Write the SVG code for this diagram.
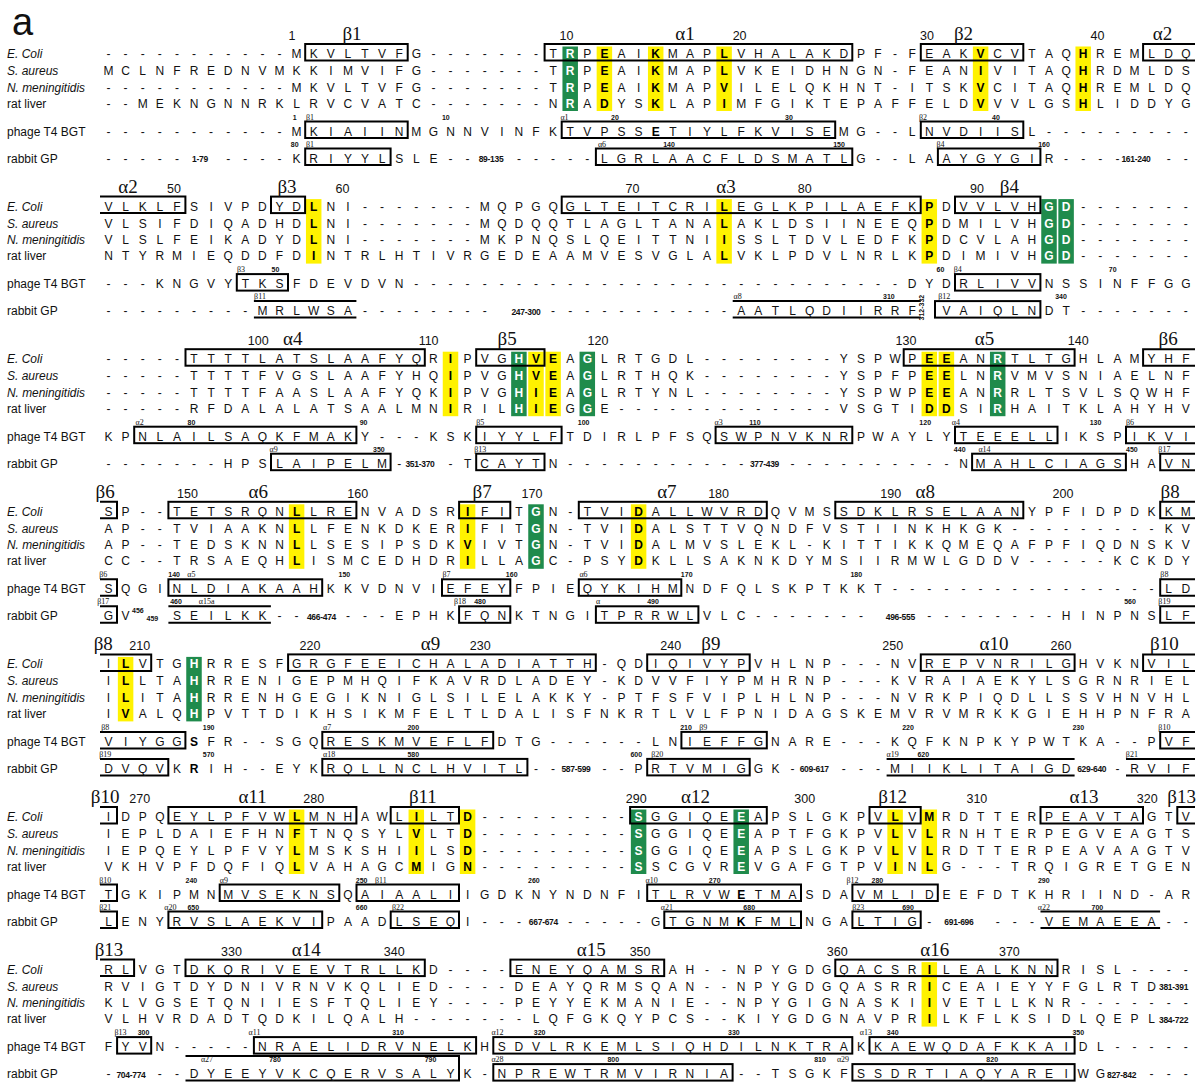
<svg xmlns="http://www.w3.org/2000/svg" xmlns:xlink="http://www.w3.org/1999/xlink" width="1198" height="1082" viewBox="0 0 1198 1082">
<style>
.s{font-family:"Liberation Sans",Arial,sans-serif;font-size:12px;text-anchor:middle;fill:#111}
.b{font-weight:bold;fill:#000}
.w{font-weight:bold;fill:#fff}
.lab{font-family:"Liberation Sans",Arial,sans-serif;font-size:12px;fill:#111}
.it{font-style:italic}
.hn{font-family:"Liberation Sans",Arial,sans-serif;font-size:12.5px;text-anchor:middle;fill:#111}
.hg{font-family:"Liberation Serif","Times New Roman",serif;font-size:19px;text-anchor:middle;fill:#111}
.sn{font-family:"Liberation Sans",Arial,sans-serif;font-size:7px;font-weight:bold;text-anchor:middle;fill:#111}
.sg{font-family:"Liberation Serif","Times New Roman",serif;font-size:8px;text-anchor:middle;fill:#111}
.rl{font-family:"Liberation Sans",Arial,sans-serif;font-size:8.5px;font-weight:bold;text-anchor:middle;letter-spacing:-0.3px;fill:#111}
.rs{font-family:"Liberation Sans",Arial,sans-serif;font-size:8.5px;font-weight:bold;letter-spacing:-0.3px;fill:#111}
.bx{fill:none;stroke:#000;stroke-width:2}
.hy{fill:#fff200}
.hgn{fill:#1f8b4c}
</style>
<defs>
<g id="labels">
<text class="lab it" x="7" y="0">E. Coli</text>
<text class="lab it" x="7" y="17">S. aureus</text>
<text class="lab it" x="7" y="33.5" textLength="78" lengthAdjust="spacingAndGlyphs">N. meningitidis</text>
<text class="lab" x="7" y="49.5">rat liver</text>
<text class="lab" x="7" y="77.5">phage T4 BGT</text>
<text class="lab" x="7" y="104.5">rabbit GP</text>
</g>
</defs>
<rect width="1198" height="1082" fill="#fff"/>
<text x="12" y="34.5" font-family="Liberation Sans, Arial, sans-serif" font-size="38" fill="#111">a</text>

<g id="block1" transform="translate(0,58)">
<use xlink:href="#labels" href="#labels"/>
<g id="b1-highlights">
<rect class="hgn" x="562.45" y="-11.5" width="15.5" height="64.5"/>
<rect class="hy" x="596.65" y="-11.5" width="15.5" height="64.5"/>
<rect class="hy" x="647.95" y="-11.5" width="15.5" height="64.5"/>
<rect class="hy" x="716.35" y="-11.5" width="15.5" height="64.5"/>
<rect class="hy" x="972.85" y="-11.5" width="15.5" height="64.5"/>
<rect class="hy" x="1075.45" y="-11.5" width="15.5" height="64.5"/>
</g>
<g id="b1-boxes">
<rect class="bx" x="305.2" y="-14" width="102.5" height="16.5"/>
<rect class="bx" x="544.6" y="-14" width="307.7" height="16.5"/>
<rect class="bx" x="920.8" y="-14" width="102.5" height="16.5"/>
<path class="bx" d="M1195 -14H1143.1V2.5H1195"/>
<rect class="bx" x="305.2" y="63.5" width="102.5" height="16.5"/>
<rect class="bx" x="561.7" y="63.5" width="273.5" height="16.5"/>
<rect class="bx" x="920.8" y="63.5" width="102.5" height="16.5"/>
<rect class="bx" x="305.2" y="90.5" width="85.4" height="16.5"/>
<rect class="bx" x="595.9" y="90.5" width="256.4" height="16.5"/>
<rect class="bx" x="937.9" y="90.5" width="102.5" height="16.5"/>
</g>
<text class="hn" y="-18"><tspan x="292">1</tspan><tspan x="566.4">10</tspan><tspan x="739.6">20</tspan><tspan x="927">30</tspan><tspan x="1097.4">40</tspan></text>
<text class="hg" y="-18"><tspan x="352">β1</tspan><tspan x="685">α1</tspan><tspan x="963.5">β2</tspan><tspan x="1162.5">α2</tspan></text>
<text class="sn" y="61.5"><tspan x="294.7">1</tspan><tspan x="445.8">10</tspan><tspan x="615">20</tspan><tspan x="789">30</tspan><tspan x="996">40</tspan></text>
<text class="sg" y="61.5"><tspan x="310">β1</tspan><tspan x="564.5">α1</tspan><tspan x="923">β2</tspan></text>
<text class="sn" y="88.5"><tspan x="294.7">80</tspan><tspan x="669">140</tspan><tspan x="839">150</tspan><tspan x="1044">160</tspan></text>
<text class="sg" y="88.5"><tspan x="310">β1</tspan><tspan x="602">α6</tspan><tspan x="940.5">β4</tspan></text>
<text class="rl" y="104"><tspan x="200">1-79</tspan><tspan x="491">89-135</tspan><tspan x="1136">161-240</tspan></text>
<text class="s" y="0" x="108.5 125.6 142.7 159.8 176.9 194 211.1 228.2 245.3 262.4 279.5 296.6 313.7 330.8 347.9 365 382.1 399.2 416.3 433.4 450.5 467.6 484.7 501.8 518.9 536 553.1 570.2 587.3 604.4 621.5 638.6 655.7 672.8 689.9 707 724.1 741.2 758.3 775.4 792.5 809.6 826.7 843.8 860.9 878 895.1 912.2 929.3 946.4 963.5 980.6 997.7 1014.8 1031.9 1049 1066.1 1083.2 1100.3 1117.4 1134.5 1151.6 1168.7 1185.8">-----------MKVLTVFG-------T<tspan class="w">R</tspan>P<tspan class="b">E</tspan>AI<tspan class="b">K</tspan>MAP<tspan class="b">L</tspan>VHALAKDPF-FEAK<tspan class="b">V</tspan>CVTAQ<tspan class="b">H</tspan>REMLDQ</text>
<text class="s" y="17" x="108.5 125.6 142.7 159.8 176.9 194 211.1 228.2 245.3 262.4 279.5 296.6 313.7 330.8 347.9 365 382.1 399.2 416.3 433.4 450.5 467.6 484.7 501.8 518.9 536 553.1 570.2 587.3 604.4 621.5 638.6 655.7 672.8 689.9 707 724.1 741.2 758.3 775.4 792.5 809.6 826.7 843.8 860.9 878 895.1 912.2 929.3 946.4 963.5 980.6 997.7 1014.8 1031.9 1049 1066.1 1083.2 1100.3 1117.4 1134.5 1151.6 1168.7 1185.8">MCLNFREDNVMKKIMVIFG-------T<tspan class="w">R</tspan>P<tspan class="b">E</tspan>AI<tspan class="b">K</tspan>MAP<tspan class="b">L</tspan>VKEIDHNGN-FEAN<tspan class="b">I</tspan>VITAQ<tspan class="b">H</tspan>RDMLDS</text>
<text class="s" y="33.5" x="108.5 125.6 142.7 159.8 176.9 194 211.1 228.2 245.3 262.4 279.5 296.6 313.7 330.8 347.9 365 382.1 399.2 416.3 433.4 450.5 467.6 484.7 501.8 518.9 536 553.1 570.2 587.3 604.4 621.5 638.6 655.7 672.8 689.9 707 724.1 741.2 758.3 775.4 792.5 809.6 826.7 843.8 860.9 878 895.1 912.2 929.3 946.4 963.5 980.6 997.7 1014.8 1031.9 1049 1066.1 1083.2 1100.3 1117.4 1134.5 1151.6 1168.7 1185.8">-----------MKVLTVFG-------T<tspan class="w">R</tspan>P<tspan class="b">E</tspan>AI<tspan class="b">K</tspan>MAP<tspan class="b">V</tspan>ILELQKHNT-ITSK<tspan class="b">V</tspan>CITAQ<tspan class="b">H</tspan>REMLDQ</text>
<text class="s" y="49.5" x="108.5 125.6 142.7 159.8 176.9 194 211.1 228.2 245.3 262.4 279.5 296.6 313.7 330.8 347.9 365 382.1 399.2 416.3 433.4 450.5 467.6 484.7 501.8 518.9 536 553.1 570.2 587.3 604.4 621.5 638.6 655.7 672.8 689.9 707 724.1 741.2 758.3 775.4 792.5 809.6 826.7 843.8 860.9 878 895.1 912.2 929.3 946.4 963.5 980.6 997.7 1014.8 1031.9 1049 1066.1 1083.2 1100.3 1117.4 1134.5 1151.6 1168.7 1185.8">--MEKNGNNRKLRVCVATC-------N<tspan class="w">R</tspan>A<tspan class="b">D</tspan>YS<tspan class="b">K</tspan>LAP<tspan class="b">I</tspan>MFGIKTEPAFFELD<tspan class="b">V</tspan>VVLGS<tspan class="b">H</tspan>LIDDYG</text>
<text class="s" y="77.5" x="108.5 125.6 142.7 159.8 176.9 194 211.1 228.2 245.3 262.4 279.5 296.6 313.7 330.8 347.9 365 382.1 399.2 416.3 433.4 450.5 467.6 484.7 501.8 518.9 536 553.1 570.2 587.3 604.4 621.5 638.6 655.7 672.8 689.9 707 724.1 741.2 758.3 775.4 792.5 809.6 826.7 843.8 860.9 878 895.1 912.2 929.3 946.4 963.5 980.6 997.7 1014.8 1031.9 1049 1066.1 1083.2 1100.3 1117.4 1134.5 1151.6 1168.7 1185.8">-----------MKIAIINMGNNVINFKTVPSS<tspan class="b">E</tspan>TIYLFKVISEMG--LNVDIISL---------</text>
<text class="s" y="104.5" x="108.5 125.6 142.7 159.8 176.9">-----</text>
<text class="s" y="104.5" x="228.2 245.3 262.4 279.5 296.6 313.7 330.8 347.9 365 382.1 399.2 416.3 433.4 450.5 467.6">----KRIYYLSLE--</text>
<text class="s" y="104.5" x="518.9 536 553.1 570.2 587.3 604.4 621.5 638.6 655.7 672.8 689.9 707 724.1 741.2 758.3 775.4 792.5 809.6 826.7 843.8 860.9 878 895.1 912.2 929.3 946.4 963.5 980.6 997.7 1014.8 1031.9 1049 1066.1 1083.2 1100.3 1117.4">-----LGRLAACFLDSMATLG--LAAYGYGIR----</text>
<text class="s" y="104.5" x="1168.7 1185.8">--</text>
</g>

<g id="block2" transform="translate(0,210.6)">
<use xlink:href="#labels" href="#labels"/>
<g id="b2-highlights">
<rect class="hy" x="305.95" y="-11.5" width="15.5" height="64.5"/>
<rect class="hy" x="716.35" y="-11.5" width="15.5" height="64.5"/>
<rect class="hy" x="921.55" y="-11.5" width="15.5" height="64.5"/>
<rect class="hgn" x="1041.25" y="-11.5" width="15.5" height="64.5"/>
<rect class="hgn" x="1058.35" y="-11.5" width="15.5" height="64.5"/>
</g>
<g id="b2-boxes">
<path class="bx" d="M100 -14H185.4V2.5H100"/>
<rect class="bx" x="271" y="-14" width="34.1" height="16.5"/>
<rect class="bx" x="561.7" y="-14" width="359" height="16.5"/>
<rect class="bx" x="955" y="-14" width="85.4" height="16.5"/>
<rect class="bx" x="236.8" y="63.5" width="51.2" height="16.5"/>
<rect class="bx" x="955" y="63.5" width="85.4" height="16.5"/>
<path class="bx" d="M253.9 90.5H356.4M253.9 107H356.4"/>
<path class="bx" d="M732.7 90.5H920.7M732.7 107H920.7"/>
<rect class="bx" x="935" y="90.5" width="105.4" height="16.5"/>
</g>
<text class="hn" y="-18"><tspan x="174">50</tspan><tspan x="342.5">60</tspan><tspan x="632.4">70</tspan><tspan x="804.7">80</tspan><tspan x="977">90</tspan></text>
<text class="hg" y="-18"><tspan x="128">α2</tspan><tspan x="287">β3</tspan><tspan x="726">α3</tspan><tspan x="1009.4">β4</tspan></text>
<text class="sn" y="61.5"><tspan x="275.5">50</tspan><tspan x="940.5">60</tspan><tspan x="1112.7">70</tspan></text>
<text class="sg" y="61.5"><tspan x="241">β3</tspan><tspan x="957.7">β4</tspan></text>
<text class="sn" y="88.5"><tspan x="888.9">310</tspan><tspan x="1061">340</tspan></text>
<text class="sg" y="88.5"><tspan x="260">β11</tspan><tspan x="737.7">α8</tspan><tspan x="944.3">β12</tspan></text>
<text class="rl" y="104"><tspan x="526">247-300</tspan></text>
<text class="sn" x="924" y="97" transform="rotate(-90 924 97)">312-332</text>
<text class="s" y="0" x="108.5 125.6 142.7 159.8 176.9 194 211.1 228.2 245.3 262.4 279.5 296.6 313.7 330.8 347.9 365 382.1 399.2 416.3 433.4 450.5 467.6 484.7 501.8 518.9 536 553.1 570.2 587.3 604.4 621.5 638.6 655.7 672.8 689.9 707 724.1 741.2 758.3 775.4 792.5 809.6 826.7 843.8 860.9 878 895.1 912.2 929.3 946.4 963.5 980.6 997.7 1014.8 1031.9 1049 1066.1 1083.2 1100.3 1117.4 1134.5 1151.6 1168.7 1185.8">VLKLFSIVPDYD<tspan class="b">L</tspan>NI-------MQPGQGLTEITCRI<tspan class="b">L</tspan>EGLKPILAEFK<tspan class="b">P</tspan>DVVLVH<tspan class="w">GD</tspan>-------</text>
<text class="s" y="17" x="108.5 125.6 142.7 159.8 176.9 194 211.1 228.2 245.3 262.4 279.5 296.6 313.7 330.8 347.9 365 382.1 399.2 416.3 433.4 450.5 467.6 484.7 501.8 518.9 536 553.1 570.2 587.3 604.4 621.5 638.6 655.7 672.8 689.9 707 724.1 741.2 758.3 775.4 792.5 809.6 826.7 843.8 860.9 878 895.1 912.2 929.3 946.4 963.5 980.6 997.7 1014.8 1031.9 1049 1066.1 1083.2 1100.3 1117.4 1134.5 1151.6 1168.7 1185.8">VLSIFDIQADHD<tspan class="b">L</tspan>NI-------MQDQQTLAGLTANA<tspan class="b">L</tspan>AKLDSIINEEQ<tspan class="b">P</tspan>DMILVH<tspan class="w">GD</tspan>-------</text>
<text class="s" y="33.5" x="108.5 125.6 142.7 159.8 176.9 194 211.1 228.2 245.3 262.4 279.5 296.6 313.7 330.8 347.9 365 382.1 399.2 416.3 433.4 450.5 467.6 484.7 501.8 518.9 536 553.1 570.2 587.3 604.4 621.5 638.6 655.7 672.8 689.9 707 724.1 741.2 758.3 775.4 792.5 809.6 826.7 843.8 860.9 878 895.1 912.2 929.3 946.4 963.5 980.6 997.7 1014.8 1031.9 1049 1066.1 1083.2 1100.3 1117.4 1134.5 1151.6 1168.7 1185.8">VLSLFEIKADYD<tspan class="b">L</tspan>NI-------MKPNQSLQEITTNI<tspan class="b">I</tspan>SSLTDVLEDFK<tspan class="b">P</tspan>DCVLAH<tspan class="w">GD</tspan>-------</text>
<text class="s" y="49.5" x="108.5 125.6 142.7 159.8 176.9 194 211.1 228.2 245.3 262.4 279.5 296.6 313.7 330.8 347.9 365 382.1 399.2 416.3 433.4 450.5 467.6 484.7 501.8 518.9 536 553.1 570.2 587.3 604.4 621.5 638.6 655.7 672.8 689.9 707 724.1 741.2 758.3 775.4 792.5 809.6 826.7 843.8 860.9 878 895.1 912.2 929.3 946.4 963.5 980.6 997.7 1014.8 1031.9 1049 1066.1 1083.2 1100.3 1117.4 1134.5 1151.6 1168.7 1185.8">NTYRMIEQDDFD<tspan class="b">I</tspan>NTRLHTIVRGEDEAAMVESVGLA<tspan class="b">L</tspan>VKLPDVLNRLK<tspan class="b">P</tspan>DIMIVH<tspan class="w">GD</tspan>-------</text>
<text class="s" y="77.5" x="108.5 125.6 142.7 159.8 176.9 194 211.1 228.2 245.3 262.4 279.5 296.6 313.7 330.8 347.9 365 382.1 399.2 416.3 433.4 450.5 467.6 484.7 501.8 518.9 536 553.1 570.2 587.3 604.4 621.5 638.6 655.7 672.8 689.9 707 724.1 741.2 758.3 775.4 792.5 809.6 826.7 843.8 860.9 878 895.1 912.2 929.3 946.4 963.5 980.6 997.7 1014.8 1031.9 1049 1066.1 1083.2 1100.3 1117.4 1134.5 1151.6 1168.7 1185.8">---KNGVYTKSFDEVDVN-----------------------------DYDRLIVVNSSINFFGG</text>
<text class="s" y="104.5" x="108.5 125.6 142.7 159.8 176.9 194 211.1 228.2 245.3 262.4 279.5 296.6 313.7 330.8 347.9 365 382.1 399.2 416.3 433.4 450.5 467.6 484.7">---------MRLWSA--------</text>
<text class="s" y="104.5" x="553.1 570.2 587.3 604.4 621.5 638.6 655.7 672.8 689.9 707 724.1 741.2 758.3 775.4 792.5 809.6 826.7 843.8 860.9 878 895.1 912.2">-----------AATLQDIIRRF</text>
<text class="s" y="104.5" x="946.4 963.5 980.6 997.7 1014.8 1031.9 1049 1066.1 1083.2 1100.3 1117.4 1134.5 1151.6 1168.7 1185.8">VAIQLNDT-------</text>
</g>

<g id="block3" transform="translate(0,363.2)">
<use xlink:href="#labels" href="#labels"/>
<g id="b3-highlights">
<rect class="hy" x="442.75" y="-11.5" width="15.5" height="64.5"/>
<rect class="hgn" x="511.15" y="-11.5" width="15.5" height="64.5"/>
<rect class="hy" x="528.25" y="-11.5" width="15.5" height="64.5"/>
<rect class="hy" x="545.35" y="-11.5" width="15.5" height="64.5"/>
<rect class="hgn" x="579.55" y="-11.5" width="15.5" height="64.5"/>
<rect class="hy" x="921.55" y="-11.5" width="15.5" height="64.5"/>
<rect class="hy" x="938.65" y="-11.5" width="15.5" height="64.5"/>
<rect class="hgn" x="989.95" y="-11.5" width="15.5" height="64.5"/>
</g>
<g id="b3-boxes">
<rect class="bx" x="185.5" y="-14" width="239.3" height="16.5"/>
<rect class="bx" x="476.2" y="-14" width="68.3" height="16.5"/>
<rect class="bx" x="903.7" y="-14" width="170.9" height="16.5"/>
<path class="bx" d="M1195 -14H1143.1V2.5H1195"/>
<rect class="bx" x="134.2" y="63.5" width="222.2" height="16.5"/>
<rect class="bx" x="476.2" y="63.5" width="85.4" height="16.5"/>
<rect class="bx" x="715.6" y="63.5" width="136.7" height="16.5"/>
<rect class="bx" x="955" y="63.5" width="102.5" height="16.5"/>
<path class="bx" d="M1195 63.5H1126V80H1195"/>
<rect class="bx" x="271" y="90.5" width="119.6" height="16.5"/>
<rect class="bx" x="476.2" y="90.5" width="68.3" height="16.5"/>
<rect class="bx" x="972.1" y="90.5" width="153.8" height="16.5"/>
<path class="bx" d="M1195 90.5H1160.2V107H1195"/>
</g>
<text class="hn" y="-18"><tspan x="258.3">100</tspan><tspan x="428.6">110</tspan><tspan x="598">120</tspan><tspan x="906">130</tspan><tspan x="1078.3">140</tspan></text>
<text class="hg" y="-18"><tspan x="292.8">α4</tspan><tspan x="507.1">β5</tspan><tspan x="984.5">α5</tspan><tspan x="1168.2">β6</tspan></text>
<text class="sn" y="61.5"><tspan x="191.4">80</tspan><tspan x="363.6">90</tspan><tspan x="583.6">100</tspan><tspan x="754.9">110</tspan><tspan x="925.2">120</tspan><tspan x="1095.5">130</tspan></text>
<text class="sg" y="61.5"><tspan x="139.7">α2</tspan><tspan x="480.3">β5</tspan><tspan x="718.6">α3</tspan><tspan x="955.8">α4</tspan><tspan x="1130">β6</tspan></text>
<text class="sn" y="88.5"><tspan x="378.9">350</tspan><tspan x="959.7">440</tspan><tspan x="1131.9">450</tspan></text>
<text class="sg" y="88.5"><tspan x="273.6">α9</tspan><tspan x="480.3">β13</tspan><tspan x="984.5">α14</tspan><tspan x="1164.4">β17</tspan></text>
<text class="rl" y="104"><tspan x="420">351-370</tspan><tspan x="764.5">377-439</tspan></text>
<text class="s" y="0" x="108.5 125.6 142.7 159.8 176.9 194 211.1 228.2 245.3 262.4 279.5 296.6 313.7 330.8 347.9 365 382.1 399.2 416.3 433.4 450.5 467.6 484.7 501.8 518.9 536 553.1 570.2 587.3 604.4 621.5 638.6 655.7 672.8 689.9 707 724.1 741.2 758.3 775.4 792.5 809.6 826.7 843.8 860.9 878 895.1 912.2 929.3 946.4 963.5 980.6 997.7 1014.8 1031.9 1049 1066.1 1083.2 1100.3 1117.4 1134.5 1151.6 1168.7 1185.8">-----TTTTLATSLAAFYQR<tspan class="b">I</tspan>PVG<tspan class="w">H</tspan><tspan class="b">VE</tspan>A<tspan class="w">G</tspan>LRTGDL--------YSPWP<tspan class="b">EE</tspan>AN<tspan class="w">R</tspan>TLTGHLAMYHF</text>
<text class="s" y="17" x="108.5 125.6 142.7 159.8 176.9 194 211.1 228.2 245.3 262.4 279.5 296.6 313.7 330.8 347.9 365 382.1 399.2 416.3 433.4 450.5 467.6 484.7 501.8 518.9 536 553.1 570.2 587.3 604.4 621.5 638.6 655.7 672.8 689.9 707 724.1 741.2 758.3 775.4 792.5 809.6 826.7 843.8 860.9 878 895.1 912.2 929.3 946.4 963.5 980.6 997.7 1014.8 1031.9 1049 1066.1 1083.2 1100.3 1117.4 1134.5 1151.6 1168.7 1185.8">-----TTTTFVGSLAAFYHQ<tspan class="b">I</tspan>PVG<tspan class="w">H</tspan><tspan class="b">VE</tspan>A<tspan class="w">G</tspan>LRTHQK--------YSPFP<tspan class="b">EE</tspan>LN<tspan class="w">R</tspan>VMVSNIAELNF</text>
<text class="s" y="33.5" x="108.5 125.6 142.7 159.8 176.9 194 211.1 228.2 245.3 262.4 279.5 296.6 313.7 330.8 347.9 365 382.1 399.2 416.3 433.4 450.5 467.6 484.7 501.8 518.9 536 553.1 570.2 587.3 604.4 621.5 638.6 655.7 672.8 689.9 707 724.1 741.2 758.3 775.4 792.5 809.6 826.7 843.8 860.9 878 895.1 912.2 929.3 946.4 963.5 980.6 997.7 1014.8 1031.9 1049 1066.1 1083.2 1100.3 1117.4 1134.5 1151.6 1168.7 1185.8">-----TTTTFAASLAAFYQK<tspan class="b">I</tspan>PVG<tspan class="w">H</tspan><tspan class="b">IE</tspan>A<tspan class="w">G</tspan>LRTYNL--------YSPWP<tspan class="b">EE</tspan>AN<tspan class="w">R</tspan>RLTSVLSQWHF</text>
<text class="s" y="49.5" x="108.5 125.6 142.7 159.8 176.9 194 211.1 228.2 245.3 262.4 279.5 296.6 313.7 330.8 347.9 365 382.1 399.2 416.3 433.4 450.5 467.6 484.7 501.8 518.9 536 553.1 570.2 587.3 604.4 621.5 638.6 655.7 672.8 689.9 707 724.1 741.2 758.3 775.4 792.5 809.6 826.7 843.8 860.9 878 895.1 912.2 929.3 946.4 963.5 980.6 997.7 1014.8 1031.9 1049 1066.1 1083.2 1100.3 1117.4 1134.5 1151.6 1168.7 1185.8">-----RFDALALATSAALMN<tspan class="b">I</tspan>RIL<tspan class="w">H</tspan><tspan class="b">IE</tspan>G<tspan class="w">G</tspan>E-------------VSGTI<tspan class="b">DD</tspan>SI<tspan class="w">R</tspan>HAITKLAHYHV</text>
<text class="s" y="77.5" x="108.5 125.6 142.7 159.8 176.9 194 211.1 228.2 245.3 262.4 279.5 296.6 313.7 330.8 347.9 365 382.1 399.2 416.3 433.4 450.5 467.6 484.7 501.8 518.9 536 553.1 570.2 587.3 604.4 621.5 638.6 655.7 672.8 689.9 707 724.1 741.2 758.3 775.4 792.5 809.6 826.7 843.8 860.9 878 895.1 912.2 929.3 946.4 963.5 980.6 997.7 1014.8 1031.9 1049 1066.1 1083.2 1100.3 1117.4 1134.5 1151.6 1168.7 1185.8">KPNLAILSAQKFMAKY---KSKIYYLFTDIRLPFSQSWPNVKNRPWAYLYTEEELLIKSPIKVI</text>
<text class="s" y="104.5" x="108.5 125.6 142.7 159.8 176.9 194 211.1 228.2 245.3 262.4 279.5 296.6 313.7 330.8 347.9 365 382.1 399.2">-------HPSLAIPELM-</text>
<text class="s" y="104.5" x="450.5 467.6 484.7 501.8 518.9 536 553.1 570.2 587.3 604.4 621.5 638.6 655.7 672.8 689.9 707 724.1 741.2">-TCAYTN-----------</text>
<text class="s" y="104.5" x="792.5 809.6 826.7 843.8 860.9 878 895.1 912.2 929.3 946.4 963.5 980.6 997.7 1014.8 1031.9 1049 1066.1 1083.2 1100.3 1117.4 1134.5 1151.6 1168.7 1185.8">----------NMAHLCIAGSHAVN</text>
</g>

<g id="block4" transform="translate(0,515.8)">
<use xlink:href="#labels" href="#labels"/>
<g id="b4-highlights">
<rect class="hy" x="288.85" y="-11.5" width="15.5" height="64.5"/>
<rect class="hy" x="459.85" y="-11.5" width="15.5" height="64.5"/>
<rect class="hgn" x="528.25" y="-11.5" width="15.5" height="64.5"/>
<rect class="hy" x="630.85" y="-11.5" width="15.5" height="64.5"/>
</g>
<g id="b4-boxes">
<path class="bx" d="M100 -14H117V2.5H100"/>
<rect class="bx" x="168.4" y="-14" width="188" height="16.5"/>
<rect class="bx" x="459.1" y="-14" width="51.2" height="16.5"/>
<rect class="bx" x="578.8" y="-14" width="188" height="16.5"/>
<rect class="bx" x="835.3" y="-14" width="188" height="16.5"/>
<path class="bx" d="M1195 -14H1160.2V2.5H1195"/>
<path class="bx" d="M100 63.5H117V80H100"/>
<rect class="bx" x="168.4" y="63.5" width="153.8" height="16.5"/>
<rect class="bx" x="442" y="63.5" width="68.3" height="16.5"/>
<rect class="bx" x="578.8" y="63.5" width="102.5" height="16.5"/>
<path class="bx" d="M1195 63.5H1160.2V80H1195"/>
<path class="bx" d="M100 90.5H117V107H100"/>
<path class="bx" d="M168.4 90.5H270.9M168.4 107H270.9"/>
<rect class="bx" x="459.1" y="90.5" width="51.2" height="16.5"/>
<rect class="bx" x="595.9" y="90.5" width="102.5" height="16.5"/>
<path class="bx" d="M1195 90.5H1160.2V107H1195"/>
</g>
<text class="hn" y="-18"><tspan x="187.5">150</tspan><tspan x="357.8">160</tspan><tspan x="532">170</tspan><tspan x="718.6">180</tspan><tspan x="890.8">190</tspan><tspan x="1063">200</tspan></text>
<text class="hg" y="-18"><tspan x="105.2">β6</tspan><tspan x="258.3">α6</tspan><tspan x="482.2">β7</tspan><tspan x="666.9">α7</tspan><tspan x="925.2">α8</tspan><tspan x="1170.1">β8</tspan></text>
<text class="sn" y="61.5"><tspan x="174.1">140</tspan><tspan x="344.4">150</tspan><tspan x="511.7">160</tspan><tspan x="686.7">170</tspan><tspan x="856.3">180</tspan></text>
<text class="sg" y="61.5"><tspan x="103.3">β6</tspan><tspan x="191.4">α5</tspan><tspan x="446.5">β7</tspan><tspan x="583.5">α6</tspan><tspan x="1164.4">β8</tspan></text>
<text class="sn" y="88.5"><tspan x="176">460</tspan><tspan x="480">480</tspan><tspan x="653">490</tspan><tspan x="1130">560</tspan></text>
<text class="sg" y="88.5"><tspan x="103.3">β17</tspan><tspan x="206.7">α15a</tspan><tspan x="460">β18</tspan><tspan x="598">α</tspan><tspan x="1164.4">β19</tspan></text>
<text class="sn" x="132" y="97.5" style="text-anchor:start">456</text>
<text class="sn" x="146.5" y="105" style="text-anchor:start">459</text>
<text class="rl" y="104"><tspan x="321.5">466-474</tspan><tspan x="900.3">496-555</tspan></text>
<text class="s" y="0" x="108.5 125.6 142.7 159.8 176.9 194 211.1 228.2 245.3 262.4 279.5 296.6 313.7 330.8 347.9 365 382.1 399.2 416.3 433.4 450.5 467.6 484.7 501.8 518.9 536 553.1 570.2 587.3 604.4 621.5 638.6 655.7 672.8 689.9 707 724.1 741.2 758.3 775.4 792.5 809.6 826.7 843.8 860.9 878 895.1 912.2 929.3 946.4 963.5 980.6 997.7 1014.8 1031.9 1049 1066.1 1083.2 1100.3 1117.4 1134.5 1151.6 1168.7 1185.8">SP--TETSRQN<tspan class="b">L</tspan>LRENVADSR<tspan class="b">I</tspan>FIT<tspan class="w">G</tspan>N-TVI<tspan class="b">D</tspan>ALLWVRDQVMSSDKLRSELAANYPFIDPDKKM</text>
<text class="s" y="17" x="108.5 125.6 142.7 159.8 176.9 194 211.1 228.2 245.3 262.4 279.5 296.6 313.7 330.8 347.9 365 382.1 399.2 416.3 433.4 450.5 467.6 484.7 501.8 518.9 536 553.1 570.2 587.3 604.4 621.5 638.6 655.7 672.8 689.9 707 724.1 741.2 758.3 775.4 792.5 809.6 826.7 843.8 860.9 878 895.1 912.2 929.3 946.4 963.5 980.6 997.7 1014.8 1031.9 1049 1066.1 1083.2 1100.3 1117.4 1134.5 1151.6 1168.7 1185.8">AP--TVIAAKN<tspan class="b">L</tspan>LFENKDKER<tspan class="b">I</tspan>FIT<tspan class="w">G</tspan>N-TVI<tspan class="b">D</tspan>ALSTTVQNDFVSTIINKHKGK---------KV</text>
<text class="s" y="33.5" x="108.5 125.6 142.7 159.8 176.9 194 211.1 228.2 245.3 262.4 279.5 296.6 313.7 330.8 347.9 365 382.1 399.2 416.3 433.4 450.5 467.6 484.7 501.8 518.9 536 553.1 570.2 587.3 604.4 621.5 638.6 655.7 672.8 689.9 707 724.1 741.2 758.3 775.4 792.5 809.6 826.7 843.8 860.9 878 895.1 912.2 929.3 946.4 963.5 980.6 997.7 1014.8 1031.9 1049 1066.1 1083.2 1100.3 1117.4 1134.5 1151.6 1168.7 1185.8">AP--TEDSKNN<tspan class="b">L</tspan>LSESIPSDK<tspan class="b">V</tspan>IVT<tspan class="w">G</tspan>N-TVI<tspan class="b">D</tspan>ALMVSLEKL-KITTIKKQMEQAFPFIQDNSKV</text>
<text class="s" y="49.5" x="108.5 125.6 142.7 159.8 176.9 194 211.1 228.2 245.3 262.4 279.5 296.6 313.7 330.8 347.9 365 382.1 399.2 416.3 433.4 450.5 467.6 484.7 501.8 518.9 536 553.1 570.2 587.3 604.4 621.5 638.6 655.7 672.8 689.9 707 724.1 741.2 758.3 775.4 792.5 809.6 826.7 843.8 860.9 878 895.1 912.2 929.3 946.4 963.5 980.6 997.7 1014.8 1031.9 1049 1066.1 1083.2 1100.3 1117.4 1134.5 1151.6 1168.7 1185.8">CC--TRSAEQH<tspan class="b">L</tspan>ISMCEDHDR<tspan class="b">I</tspan>LLA<tspan class="w">G</tspan>C-PSY<tspan class="b">D</tspan>KLLSAKNKDYMSIIRMWLGDDV-----KCKDY</text>
<text class="s" y="77.5" x="108.5 125.6 142.7 159.8 176.9 194 211.1 228.2 245.3 262.4 279.5 296.6 313.7 330.8 347.9 365 382.1 399.2 416.3 433.4 450.5 467.6 484.7 501.8 518.9 536 553.1 570.2 587.3 604.4 621.5 638.6 655.7 672.8 689.9 707 724.1 741.2 758.3 775.4 792.5 809.6 826.7 843.8 860.9 878 895.1 912.2 929.3 946.4 963.5 980.6 997.7 1014.8 1031.9 1049 1066.1 1083.2 1100.3 1117.4 1134.5 1151.6 1168.7 1185.8">SQGINLDIAKAAHKKVDNVIEFEYFPIEQYKIHMNDFQLSKPTKKT----------------LD</text>
<text class="s" y="104.5" x="108.5 125.6">GV</text>
<text class="s" y="104.5" x="176.9 194 211.1 228.2 245.3 262.4 279.5 296.6">SEILKK--</text>
<text class="s" y="104.5" x="347.9 365 382.1 399.2 416.3 433.4 450.5 467.6 484.7 501.8 518.9 536 553.1 570.2 587.3 604.4 621.5 638.6 655.7 672.8 689.9 707 724.1 741.2 758.3 775.4 792.5 809.6 826.7 843.8 860.9">---EPHKFQNKTNGITPRRWLVLC-------</text>
<text class="s" y="104.5" x="929.3 946.4 963.5 980.6 997.7 1014.8 1031.9 1049 1066.1 1083.2 1100.3 1117.4 1134.5 1151.6 1168.7 1185.8">--------HINPNSLF</text>
</g>

<g id="block5" transform="translate(0,668.4)">
<use xlink:href="#labels" href="#labels"/>
<g id="b5-highlights">
<rect class="hy" x="117.85" y="-11.5" width="15.5" height="64.5"/>
<rect class="hgn" x="186.25" y="-11.5" width="15.5" height="64.5"/>
</g>
<g id="b5-boxes">
<path class="bx" d="M100 -14H151.2V2.5H100"/>
<rect class="bx" x="288.1" y="-14" width="307.7" height="16.5"/>
<rect class="bx" x="647.2" y="-14" width="102.5" height="16.5"/>
<rect class="bx" x="920.8" y="-14" width="153.8" height="16.5"/>
<path class="bx" d="M1195 -14H1143.1V2.5H1195"/>
<path class="bx" d="M100 63.5H185.4V80H100"/>
<rect class="bx" x="322.3" y="63.5" width="170.9" height="16.5"/>
<rect class="bx" x="681.4" y="63.5" width="85.4" height="16.5"/>
<path class="bx" d="M1195 63.5H1160.2V80H1195"/>
<path class="bx" d="M100 90.5H168.3V107H100"/>
<rect class="bx" x="322.3" y="90.5" width="205.1" height="16.5"/>
<rect class="bx" x="647.2" y="90.5" width="102.5" height="16.5"/>
<path class="bx" d="M886.6 90.5H1074.6M886.6 107H1074.6"/>
<path class="bx" d="M1126 90.5H1195M1126 107H1195"/>
</g>
<text class="hn" y="-18"><tspan x="139.7">210</tspan><tspan x="310">220</tspan><tspan x="480.3">230</tspan><tspan x="670.7">240</tspan><tspan x="892.7">250</tspan><tspan x="1061">260</tspan></text>
<text class="hg" y="-18"><tspan x="103.3">β8</tspan><tspan x="430.5">α9</tspan><tspan x="710.9">β9</tspan><tspan x="994.1">α10</tspan><tspan x="1164.4">β10</tspan></text>
<text class="sn" y="61.5"><tspan x="208.6">190</tspan><tspan x="413.3">200</tspan><tspan x="686">210</tspan><tspan x="908">220</tspan><tspan x="1078.3">230</tspan></text>
<text class="sg" y="61.5"><tspan x="105.2">β8</tspan><tspan x="327.2">α7</tspan><tspan x="703.2">β9</tspan><tspan x="1164.4">β10</tspan></text>
<text class="sn" y="88.5"><tspan x="208.6">570</tspan><tspan x="413.3">580</tspan><tspan x="636.3">600</tspan><tspan x="923.3">620</tspan></text>
<text class="sg" y="88.5"><tspan x="105.2">β19</tspan><tspan x="329.1">α18</tspan><tspan x="657.3">β20</tspan><tspan x="892.7">α19</tspan><tspan x="1131.9">β21</tspan></text>
<text class="rl" y="104"><tspan x="576">587-599</tspan><tspan x="814.2">609-617</tspan><tspan x="1091.7">629-640</tspan></text>
<text class="s" y="0" x="108.5 125.6 142.7 159.8 176.9 194 211.1 228.2 245.3 262.4 279.5 296.6 313.7 330.8 347.9 365 382.1 399.2 416.3 433.4 450.5 467.6 484.7 501.8 518.9 536 553.1 570.2 587.3 604.4 621.5 638.6 655.7 672.8 689.9 707 724.1 741.2 758.3 775.4 792.5 809.6 826.7 843.8 860.9 878 895.1 912.2 929.3 946.4 963.5 980.6 997.7 1014.8 1031.9 1049 1066.1 1083.2 1100.3 1117.4 1134.5 1151.6 1168.7 1185.8">I<tspan class="b">L</tspan>VTG<tspan class="w">H</tspan>RRESFGRGFEEICHALADIATTH-QDIQIVYPVHLNP---NVREPVNRILGHVKNVIL</text>
<text class="s" y="17" x="108.5 125.6 142.7 159.8 176.9 194 211.1 228.2 245.3 262.4 279.5 296.6 313.7 330.8 347.9 365 382.1 399.2 416.3 433.4 450.5 467.6 484.7 501.8 518.9 536 553.1 570.2 587.3 604.4 621.5 638.6 655.7 672.8 689.9 707 724.1 741.2 758.3 775.4 792.5 809.6 826.7 843.8 860.9 878 895.1 912.2 929.3 946.4 963.5 980.6 997.7 1014.8 1031.9 1049 1066.1 1083.2 1100.3 1117.4 1134.5 1151.6 1168.7 1185.8">I<tspan class="b">L</tspan>LTA<tspan class="w">H</tspan>RRENIGEPMHQIFKAVRDLADEY-KDVVFIYPMHRNP---KVRAIAEKYLSGRNRIEL</text>
<text class="s" y="33.5" x="108.5 125.6 142.7 159.8 176.9 194 211.1 228.2 245.3 262.4 279.5 296.6 313.7 330.8 347.9 365 382.1 399.2 416.3 433.4 450.5 467.6 484.7 501.8 518.9 536 553.1 570.2 587.3 604.4 621.5 638.6 655.7 672.8 689.9 707 724.1 741.2 758.3 775.4 792.5 809.6 826.7 843.8 860.9 878 895.1 912.2 929.3 946.4 963.5 980.6 997.7 1014.8 1031.9 1049 1066.1 1083.2 1100.3 1117.4 1134.5 1151.6 1168.7 1185.8">I<tspan class="b">L</tspan>ITA<tspan class="w">H</tspan>RRENHGEGIKNIGLSILELAKKY-PTFSFVIPLHLNP---NVRKPIQDLLSSVHNVHL</text>
<text class="s" y="49.5" x="108.5 125.6 142.7 159.8 176.9 194 211.1 228.2 245.3 262.4 279.5 296.6 313.7 330.8 347.9 365 382.1 399.2 416.3 433.4 450.5 467.6 484.7 501.8 518.9 536 553.1 570.2 587.3 604.4 621.5 638.6 655.7 672.8 689.9 707 724.1 741.2 758.3 775.4 792.5 809.6 826.7 843.8 860.9 878 895.1 912.2 929.3 946.4 963.5 980.6 997.7 1014.8 1031.9 1049 1066.1 1083.2 1100.3 1117.4 1134.5 1151.6 1168.7 1185.8">I<tspan class="b">V</tspan>ALQ<tspan class="w">H</tspan>PVTTDIKHSIKMFELTLDALISFNKRTLVLFPNIDAGSKEMVRVMRKKGIEHHPNFRA</text>
<text class="s" y="77.5" x="108.5 125.6 142.7 159.8 176.9 194 211.1 228.2 245.3 262.4 279.5 296.6 313.7 330.8 347.9 365 382.1 399.2 416.3 433.4 450.5 467.6 484.7 501.8 518.9 536 553.1 570.2 587.3 604.4 621.5 638.6 655.7 672.8 689.9 707 724.1 741.2 758.3 775.4 792.5 809.6 826.7 843.8 860.9 878 895.1 912.2 929.3 946.4 963.5 980.6 997.7 1014.8 1031.9 1049 1066.1 1083.2 1100.3 1117.4 1134.5 1151.6 1168.7 1185.8">VIYGG<tspan class="b">S</tspan>FR--SGQRESKMVEFLFDTG------LNIEFFGNARE---KQFKNPKYPWTKA--PVF</text>
<text class="s" y="104.5" x="108.5 125.6 142.7 159.8 176.9 194 211.1 228.2 245.3 262.4 279.5 296.6 313.7 330.8 347.9 365 382.1 399.2 416.3 433.4 450.5 467.6 484.7 501.8 518.9 536 553.1">DVQVK<tspan class="b">R</tspan>IH--EYKRQLLNCLHVITL--</text>
<text class="s" y="104.5" x="604.4 621.5 638.6 655.7 672.8 689.9 707 724.1 741.2 758.3 775.4 792.5">--PRTVMIGGK-</text>
<text class="s" y="104.5" x="843.8 860.9 878 895.1 912.2 929.3 946.4 963.5 980.6 997.7 1014.8 1031.9 1049 1066.1">---MIIKLITAIGD</text>
<text class="s" y="104.5" x="1117.4 1134.5 1151.6 1168.7 1185.8">-RVIF</text>
</g>

<g id="block6" transform="translate(0,821)">
<use xlink:href="#labels" href="#labels"/>
<g id="b6-highlights">
<rect class="hy" x="288.85" y="-11.5" width="15.5" height="64.5"/>
<rect class="hy" x="408.55" y="-11.5" width="15.5" height="64.5"/>
<rect class="hy" x="459.85" y="-11.5" width="15.5" height="64.5"/>
<rect class="hgn" x="630.85" y="-11.5" width="15.5" height="64.5"/>
<rect class="hgn" x="733.45" y="-11.5" width="15.5" height="64.5"/>
<rect class="hy" x="887.35" y="-11.5" width="15.5" height="64.5"/>
<rect class="hy" x="921.55" y="-11.5" width="15.5" height="64.5"/>
</g>
<g id="b6-boxes">
<path class="bx" d="M100 -14H117V2.5H100"/>
<rect class="bx" x="168.4" y="-14" width="188" height="16.5"/>
<rect class="bx" x="390.7" y="-14" width="68.3" height="16.5"/>
<rect class="bx" x="630.1" y="-14" width="136.7" height="16.5"/>
<rect class="bx" x="869.5" y="-14" width="51.2" height="16.5"/>
<rect class="bx" x="1040.5" y="-14" width="102.5" height="16.5"/>
<path class="bx" d="M1195 -14H1177.3V2.5H1195"/>
<path class="bx" d="M100 63.5H117V80H100"/>
<rect class="bx" x="219.7" y="63.5" width="119.6" height="16.5"/>
<rect class="bx" x="356.5" y="63.5" width="102.5" height="16.5"/>
<rect class="bx" x="647.2" y="63.5" width="153.8" height="16.5"/>
<rect class="bx" x="852.4" y="63.5" width="85.4" height="16.5"/>
<path class="bx" d="M100 90.5H117V107H100"/>
<rect class="bx" x="168.4" y="90.5" width="153.8" height="16.5"/>
<rect class="bx" x="390.7" y="90.5" width="68.3" height="16.5"/>
<rect class="bx" x="664.3" y="90.5" width="136.7" height="16.5"/>
<rect class="bx" x="852.4" y="90.5" width="68.3" height="16.5"/>
<path class="bx" d="M1040.5 90.5H1160.1M1040.5 107H1160.1"/>
</g>
<text class="hn" y="-18"><tspan x="139.7">270</tspan><tspan x="313.8">280</tspan><tspan x="636.3">290</tspan><tspan x="804.7">300</tspan><tspan x="976.9">310</tspan><tspan x="1147.2">320</tspan></text>
<text class="hg" y="-18"><tspan x="105.2">β10</tspan><tspan x="252.6">α11</tspan><tspan x="422.9">β11</tspan><tspan x="695.6">α12</tspan><tspan x="892.7">β12</tspan><tspan x="1084">α13</tspan><tspan x="1181.6">β13</tspan></text>
<text class="sn" y="61.5"><tspan x="191.4">240</tspan><tspan x="361.6">250</tspan><tspan x="533.9">260</tspan><tspan x="714.7">270</tspan><tspan x="877.4">280</tspan><tspan x="1043.8">290</tspan></text>
<text class="sg" y="61.5"><tspan x="105.2">β10</tspan><tspan x="223.9">α9</tspan><tspan x="380.8">β11</tspan><tspan x="651.6">α10</tspan><tspan x="852.5">β12</tspan></text>
<text class="sn" y="88.5"><tspan x="193.3">650</tspan><tspan x="361.6">660</tspan><tspan x="749.2">680</tspan><tspan x="908">690</tspan><tspan x="1097.4">700</tspan></text>
<text class="sg" y="88.5"><tspan x="105.2">β21</tspan><tspan x="170.3">α20</tspan><tspan x="398">β22</tspan><tspan x="666.9">α21</tspan><tspan x="858.2">β23</tspan><tspan x="1043.8">α22</tspan></text>
<text class="rl" y="104"><tspan x="543.4">667-674</tspan><tspan x="958.9">691-696</tspan></text>
<text class="s" y="0" x="108.5 125.6 142.7 159.8 176.9 194 211.1 228.2 245.3 262.4 279.5 296.6 313.7 330.8 347.9 365 382.1 399.2 416.3 433.4 450.5 467.6 484.7 501.8 518.9 536 553.1 570.2 587.3 604.4 621.5 638.6 655.7 672.8 689.9 707 724.1 741.2 758.3 775.4 792.5 809.6 826.7 843.8 860.9 878 895.1 912.2 929.3 946.4 963.5 980.6 997.7 1014.8 1031.9 1049 1066.1 1083.2 1100.3 1117.4 1134.5 1151.6 1168.7 1185.8">IDPQEYLPFVW<tspan class="b">L</tspan>MNHAWL<tspan class="b">I</tspan>LT<tspan class="b">D</tspan>---------<tspan class="w">S</tspan>GGIQE<tspan class="w">E</tspan>APSLGKPV<tspan class="b">L</tspan>V<tspan class="b">M</tspan>RDTTERPEAVTAGTV</text>
<text class="s" y="17" x="108.5 125.6 142.7 159.8 176.9 194 211.1 228.2 245.3 262.4 279.5 296.6 313.7 330.8 347.9 365 382.1 399.2 416.3 433.4 450.5 467.6 484.7 501.8 518.9 536 553.1 570.2 587.3 604.4 621.5 638.6 655.7 672.8 689.9 707 724.1 741.2 758.3 775.4 792.5 809.6 826.7 843.8 860.9 878 895.1 912.2 929.3 946.4 963.5 980.6 997.7 1014.8 1031.9 1049 1066.1 1083.2 1100.3 1117.4 1134.5 1151.6 1168.7 1185.8">IEPLDAIEFHN<tspan class="b">F</tspan>TNQSYL<tspan class="b">V</tspan>LT<tspan class="b">D</tspan>---------<tspan class="w">S</tspan>GGIQE<tspan class="w">E</tspan>APTFGKPV<tspan class="b">L</tspan>V<tspan class="b">L</tspan>RNHTERPEGVEAGTS</text>
<text class="s" y="33.5" x="108.5 125.6 142.7 159.8 176.9 194 211.1 228.2 245.3 262.4 279.5 296.6 313.7 330.8 347.9 365 382.1 399.2 416.3 433.4 450.5 467.6 484.7 501.8 518.9 536 553.1 570.2 587.3 604.4 621.5 638.6 655.7 672.8 689.9 707 724.1 741.2 758.3 775.4 792.5 809.6 826.7 843.8 860.9 878 895.1 912.2 929.3 946.4 963.5 980.6 997.7 1014.8 1031.9 1049 1066.1 1083.2 1100.3 1117.4 1134.5 1151.6 1168.7 1185.8">IEPQEYLPFVY<tspan class="b">L</tspan>MSKSHI<tspan class="b">I</tspan>LS<tspan class="b">D</tspan>---------<tspan class="w">S</tspan>GGIQE<tspan class="w">E</tspan>APSLGKPV<tspan class="b">L</tspan>V<tspan class="b">L</tspan>RDTTERPEAVAAGTV</text>
<text class="s" y="49.5" x="108.5 125.6 142.7 159.8 176.9 194 211.1 228.2 245.3 262.4 279.5 296.6 313.7 330.8 347.9 365 382.1 399.2 416.3 433.4 450.5 467.6 484.7 501.8 518.9 536 553.1 570.2 587.3 604.4 621.5 638.6 655.7 672.8 689.9 707 724.1 741.2 758.3 775.4 792.5 809.6 826.7 843.8 860.9 878 895.1 912.2 929.3 946.4 963.5 980.6 997.7 1014.8 1031.9 1049 1066.1 1083.2 1100.3 1117.4 1134.5 1151.6 1168.7 1185.8">VKHVPFDQFIQ<tspan class="b">L</tspan>VAHAGC<tspan class="b">M</tspan>IG<tspan class="b">N</tspan>---------<tspan class="w">S</tspan>SCGVR<tspan class="w">E</tspan>VGAFGTPV<tspan class="b">I</tspan>N<tspan class="b">L</tspan>G---TRQIGRETGEN</text>
<text class="s" y="77.5" x="108.5 125.6 142.7 159.8 176.9 194 211.1 228.2 245.3 262.4 279.5 296.6 313.7 330.8 347.9 365 382.1 399.2 416.3 433.4 450.5 467.6 484.7 501.8 518.9 536 553.1 570.2 587.3 604.4 621.5 638.6 655.7 672.8 689.9 707 724.1 741.2 758.3 775.4 792.5 809.6 826.7 843.8 860.9 878 895.1 912.2 929.3 946.4 963.5 980.6 997.7 1014.8 1031.9 1049 1066.1 1083.2 1100.3 1117.4 1134.5 1151.6 1168.7 1185.8">TGKIPMNMVSEKNSQAIAALIIGDKNYNDNFITLRVW<tspan class="b">E</tspan>TMASDAVMLIDEEFDTKHRIIND-AR</text>
<text class="s" y="104.5" x="108.5 125.6 142.7 159.8 176.9 194 211.1 228.2 245.3 262.4 279.5 296.6 313.7 330.8 347.9 365 382.1 399.2 416.3 433.4 450.5 467.6 484.7 501.8 518.9">LENYRVSLAEKVIPAADLSEQI---</text>
<text class="s" y="104.5" x="570.2 587.3 604.4 621.5 638.6 655.7 672.8 689.9 707 724.1 741.2 758.3 775.4 792.5 809.6 826.7 843.8 860.9 878 895.1 912.2 929.3">-----GTGNM<tspan class="b">K</tspan>FMLNGALTIG-</text>
<text class="s" y="104.5" x="997.7 1014.8 1031.9 1049 1066.1 1083.2 1100.3 1117.4 1134.5 1151.6 1168.7 1185.8">---VEMAEEA--</text>
</g>

<g id="block7" transform="translate(0,973.6)">
<use xlink:href="#labels" href="#labels"/>
<g id="b7-highlights">
<rect class="hy" x="921.55" y="-11.5" width="15.5" height="64.5"/>
</g>
<g id="b7-boxes">
<path class="bx" d="M100 -14H134.1V2.5H100"/>
<rect class="bx" x="185.5" y="-14" width="239.3" height="16.5"/>
<rect class="bx" x="510.4" y="-14" width="153.8" height="16.5"/>
<rect class="bx" x="835.3" y="-14" width="222.2" height="16.5"/>
<rect class="bx" x="117.1" y="63.5" width="34.1" height="16.5"/>
<rect class="bx" x="253.9" y="63.5" width="222.2" height="16.5"/>
<rect class="bx" x="493.3" y="63.5" width="359" height="16.5"/>
<rect class="bx" x="869.5" y="63.5" width="205.1" height="16.5"/>
<path class="bx" d="M185.5 82.5H459V107H185.5"/>
<rect class="bx" x="493.3" y="90.5" width="239.3" height="16.5"/>
<rect class="bx" x="852.4" y="90.5" width="222.2" height="16.5"/>
</g>
<text class="hn" y="-18"><tspan x="231.5">330</tspan><tspan x="394.2">340</tspan><tspan x="640.1">350</tspan><tspan x="837.2">360</tspan><tspan x="1009.4">370</tspan></text>
<text class="hg" y="-18"><tspan x="109">β13</tspan><tspan x="306.2">α14</tspan><tspan x="591.3">α15</tspan><tspan x="934.8">α16</tspan></text>
<text class="sn" y="61.5"><tspan x="143.5">300</tspan><tspan x="398">310</tspan><tspan x="539.6">320</tspan><tspan x="733.9">330</tspan><tspan x="892.7">340</tspan><tspan x="1078.3">350</tspan></text>
<text class="sg" y="61.5"><tspan x="120.5">β13</tspan><tspan x="254.5">α11</tspan><tspan x="497.5">α12</tspan><tspan x="865.9">α13</tspan></text>
<text class="sn" y="88.5"><tspan x="275">780</tspan><tspan x="430.5">790</tspan><tspan x="613.3">800</tspan><tspan x="820">810</tspan><tspan x="992.2">820</tspan></text>
<text class="sg" y="88.5"><tspan x="207">α27</tspan><tspan x="497.5">α28</tspan><tspan x="843">α29</tspan></text>
<text class="rl" y="104"><tspan x="131">704-774</tspan></text>
<text class="rs" x="1107" y="104">827-842</text>
<text class="rs" x="1159" y="16.5">381-391</text>
<text class="rs" x="1159" y="49">384-722</text>
<text class="s" y="0" x="108.5 125.6 142.7 159.8 176.9 194 211.1 228.2 245.3 262.4 279.5 296.6 313.7 330.8 347.9 365 382.1 399.2 416.3 433.4 450.5 467.6 484.7 501.8 518.9 536 553.1 570.2 587.3 604.4 621.5 638.6 655.7 672.8 689.9 707 724.1 741.2 758.3 775.4 792.5 809.6 826.7 843.8 860.9 878 895.1 912.2 929.3 946.4 963.5 980.6 997.7 1014.8 1031.9 1049 1066.1 1083.2 1100.3 1117.4 1134.5 1151.6 1168.7 1185.8">RLVGTDKQRIVEEVTRLLKD----ENEYQAMSRAH--NPYGDGQACSR<tspan class="b">I</tspan>LEALKNNRISL----</text>
<text class="s" y="17" x="108.5 125.6 142.7 159.8 176.9 194 211.1 228.2 245.3 262.4 279.5 296.6 313.7 330.8 347.9 365 382.1 399.2 416.3 433.4 450.5 467.6 484.7 501.8 518.9 536 553.1 570.2 587.3 604.4 621.5 638.6 655.7 672.8 689.9 707 724.1 741.2 758.3 775.4 792.5 809.6 826.7 843.8 860.9 878 895.1 912.2 929.3 946.4 963.5 980.6 997.7 1014.8 1031.9 1049 1066.1 1083.2 1100.3 1117.4 1134.5 1151.6">RVIGTDYDNIVRNVKQLIED----DEAYQRMSQAN--NPYGDGQASRR<tspan class="b">I</tspan>CEAIEYYFGLRTD</text>
<text class="s" y="33.5" x="108.5 125.6 142.7 159.8 176.9 194 211.1 228.2 245.3 262.4 279.5 296.6 313.7 330.8 347.9 365 382.1 399.2 416.3 433.4 450.5 467.6 484.7 501.8 518.9 536 553.1 570.2 587.3 604.4 621.5 638.6 655.7 672.8 689.9 707 724.1 741.2 758.3 775.4 792.5 809.6 826.7 843.8 860.9 878 895.1 912.2 929.3 946.4 963.5 980.6 997.7 1014.8 1031.9 1049 1066.1 1083.2 1100.3 1117.4 1134.5 1151.6 1168.7 1185.8">KLVGSETQNIIESFTQLIEY----PEYYEKMANIE--NPYGIGNASKI<tspan class="b">I</tspan>VETLLKNR-------</text>
<text class="s" y="49.5" x="108.5 125.6 142.7 159.8 176.9 194 211.1 228.2 245.3 262.4 279.5 296.6 313.7 330.8 347.9 365 382.1 399.2 416.3 433.4 450.5 467.6 484.7 501.8 518.9 536 553.1 570.2 587.3 604.4 621.5 638.6 655.7 672.8 689.9 707 724.1 741.2 758.3 775.4 792.5 809.6 826.7 843.8 860.9 878 895.1 912.2 929.3 946.4 963.5 980.6 997.7 1014.8 1031.9 1049 1066.1 1083.2 1100.3 1117.4 1134.5 1151.6">VLHVRDADTQDKILQALH-------LQFGKQYPCS--KIYGDGNAVPR<tspan class="b">I</tspan>LKFLKSIDLQEPL</text>
<text class="s" y="77.5" x="108.5 125.6 142.7 159.8 176.9 194 211.1 228.2 245.3 262.4 279.5 296.6 313.7 330.8 347.9 365 382.1 399.2 416.3 433.4 450.5 467.6 484.7 501.8 518.9 536 553.1 570.2 587.3 604.4 621.5 638.6 655.7 672.8 689.9 707 724.1 741.2 758.3 775.4 792.5 809.6 826.7 843.8 860.9 878 895.1 912.2 929.3 946.4 963.5 980.6 997.7 1014.8 1031.9 1049 1066.1 1083.2 1100.3 1117.4 1134.5 1151.6 1168.7 1185.8">FYVN-----NRAELIDRVNELKHSDVLRKEMLSIQHDILNKTRAKKAEWQDAFKKAIDL-----</text>
<text class="s" y="104.5" x="108.5">-</text>
<text class="s" y="104.5" x="159.8 176.9 194 211.1 228.2 245.3 262.4 279.5 296.6 313.7 330.8 347.9 365 382.1 399.2 416.3 433.4 450.5 467.6 484.7 501.8 518.9 536 553.1 570.2 587.3 604.4 621.5 638.6 655.7 672.8 689.9 707 724.1 741.2 758.3 775.4 792.5 809.6 826.7 843.8 860.9 878 895.1 912.2 929.3 946.4 963.5 980.6 997.7 1014.8 1031.9 1049 1066.1 1083.2 1100.3">--DYEEYVKCQERVSALYK-NPREWTRMVIRNIA--TSGKFSSDRTIAQYAREIWG</text>
<text class="s" y="104.5" x="1151.6 1168.7 1185.8">---</text>
</g>
</svg>
